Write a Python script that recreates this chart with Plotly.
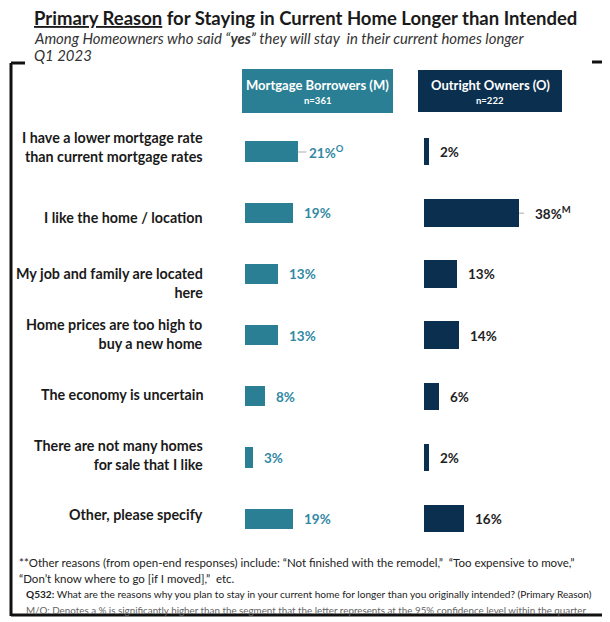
import plotly.graph_objects as go

# page body has an 8px margin: the figure is drawn from (8, 8) of the window
OFF = 8
FW, FH = 602, 614

categories = [
    "I have a lower mortgage rate<br>than current mortgage rates",
    "I like the home / location",
    "My job and family are located<br>here",
    "Home prices are too high to<br>buy a new home",
    "The economy is uncertain",
    "There are not many homes<br>for sale that I like",
    "Other, please specify",
]
mortgage = [21, 19, 13, 13, 8, 3, 19]
outright = [2, 38, 13, 14, 6, 2, 16]
mortgage_sig = ["O", "", "", "", "", "", ""]
outright_sig = ["", "M", "", "", "", "", ""]
series_names = ["Mortgage Borrowers (M)", "Outright Owners (O)"]
series_n = ["n=361", "n=222"]

TEAL = "#2a7f94"
NAVY = "#0b2f4f"
FONT = "Lato"

def px(x):
    return (x - OFF) / FW

def py(y):
    return 1 - (y - OFF) / FH

fig = go.Figure()
fig.add_trace(go.Bar(
    y=categories, x=mortgage, orientation="h", xaxis="x", yaxis="y",
    marker=dict(color=TEAL, line=dict(width=0)), width=0.33,
    hoverinfo="x+y", showlegend=False,
))
fig.add_trace(go.Bar(
    y=categories, x=outright, orientation="h", xaxis="x2", yaxis="y2",
    marker=dict(color=NAVY, line=dict(width=0)), width=0.45,
    hoverinfo="x+y", showlegend=False,
))

ydom = [py(549.6), py(121.4)]
yax = dict(domain=ydom, type="category", categoryorder="array", categoryarray=categories,
           range=[len(categories) - 0.5, -0.5], showticklabels=False, showgrid=False,
           zeroline=False, showline=False, ticks="")
fig.update_layout(
    width=FW, height=FH, margin=dict(l=0, r=0, t=0, b=0),
    paper_bgcolor="white", plot_bgcolor="rgba(0,0,0,0)",
    xaxis=dict(domain=[px(245), px(345)], range=[0, 40], visible=False, anchor="y"),
    xaxis2=dict(domain=[px(424), px(524)], range=[0, 40], visible=False, anchor="y2"),
    yaxis=dict(anchor="x", **yax),
    yaxis2=dict(anchor="x2", **yax),
    bargap=0,
)

ann = []
shapes = []

# category labels
label_shift = [5, -4, -9, 2, 2, 3, 5]
for i, c in enumerate(categories):
    ann.append(dict(xref="paper", yref="y", x=px(205), y=c, xanchor="right", yanchor="middle",
                    yshift=label_shift[i], text="<b>" + c + "</b>", align="right", showarrow=False,
                    font=dict(family=FONT, size=14.3, color="#1a1a1a")))

# value labels
for i, c in enumerate(categories):
    sig = mortgage_sig[i]
    gap = 9
    ann.append(dict(xref="x", yref="y", x=mortgage[i], y=c, xanchor="left", yanchor="middle",
                    xshift=gap, showarrow=False,
                    text="<b>%d%%%s</b>" % (mortgage[i], "<sup>" + sig + "</sup>" if sig else ""),
                    font=dict(family=FONT, size=13.5, color="#3289a3")))
    if sig:
        shapes.append(dict(type="line", xref="x", yref="y", xsizemode="pixel", xanchor=mortgage[i],
                           x0=0, x1=gap, y0=i, y1=i, line=dict(color="#aaaaaa", width=1)))
    sig = outright_sig[i]
    gap = 14 if sig else 9
    ann.append(dict(xref="x2", yref="y2", x=outright[i], y=c, xanchor="left", yanchor="middle",
                    xshift=gap, showarrow=False,
                    text="<b>%d%%%s</b>" % (outright[i], "<sup>" + sig + "</sup>" if sig else ""),
                    font=dict(family=FONT, size=13.5, color="#222222")))
    if sig:
        shapes.append(dict(type="line", xref="x2", yref="y2", xsizemode="pixel", xanchor=outright[i],
                           x0=0, x1=gap, y0=i, y1=i, line=dict(color="#aaaaaa", width=1)))

# header boxes
for (x0, x1, y0, y1, col), name, n in zip(
        [(242, 393, 69, 113, TEAL), (418, 562, 70, 112, NAVY)], series_names, series_n):
    shapes.append(dict(type="rect", xref="paper", yref="paper", x0=px(x0), x1=px(x1),
                       y0=py(y1), y1=py(y0), fillcolor=col, line=dict(width=0), layer="below"))
    cx = px((x0 + x1) / 2)
    ann.append(dict(xref="paper", yref="paper", x=cx, y=py(85), xanchor="center", yanchor="middle",
                    text="<b>" + name + "</b>", showarrow=False,
                    font=dict(family=FONT, size=13, color="white")))
    ann.append(dict(xref="paper", yref="paper", x=cx, y=py(100), xanchor="center", yanchor="middle",
                    text="<b>" + n + "</b>", showarrow=False,
                    font=dict(family=FONT, size=9.5, color="white")))

# title and subtitles
ann.append(dict(xref="paper", yref="paper", x=px(32), y=py(17.5), xanchor="left", yanchor="middle",
                text="<b><u>Primary Reason</u> for Staying in Current Home Longer than Intended</b>",
                showarrow=False, font=dict(family=FONT, size=18.5, color="#1a1a1a")))
ann.append(dict(xref="paper", yref="paper", x=px(32), y=py(37.5), xanchor="left", yanchor="middle",
                text="<i>Among Homeowners who said \u201c<b>yes</b>\u201d they will stay  in their current homes longer</i>",
                showarrow=False, font=dict(family=FONT, size=14.9, color="#333333")))
ann.append(dict(xref="paper", yref="paper", x=px(32), y=py(55), xanchor="left", yanchor="middle",
                text="<i>Q1 2023</i>", showarrow=False, font=dict(family=FONT, size=14.9, color="#333333")))

# footnotes
ann.append(dict(xref="paper", yref="paper", x=px(17), y=py(562), xanchor="left", yanchor="middle",
                text="**Other reasons (from open-end responses) include: \u201cNot finished with the remodel,\u201d  \u201cToo expensive to move,\u201d",
                showarrow=False, font=dict(family=FONT, size=11.5, color="#222222")))
ann.append(dict(xref="paper", yref="paper", x=px(17), y=py(578), xanchor="left", yanchor="middle",
                text="\u201cDon\u2019t know where to go [if I moved],\u201d  etc.",
                showarrow=False, font=dict(family=FONT, size=11.5, color="#222222")))
ann.append(dict(xref="paper", yref="paper", x=px(24), y=py(594), xanchor="left", yanchor="middle",
                text="<b>Q532:</b> What are the reasons why you plan to stay in your current home for longer than you originally intended? (Primary Reason)",
                showarrow=False, font=dict(family=FONT, size=10.1, color="#222222")))
ann.append(dict(xref="paper", yref="paper", x=px(24), y=py(610), xanchor="left", yanchor="middle",
                text="M/O: Denotes a % is significantly higher than the segment that the letter represents at the 95% confidence level within the quarter",
                showarrow=False, font=dict(family=FONT, size=9.8, color="#666666")))

# frame
frame = dict(color="#111111", width=3)
for (x0, y0, x1, y1) in [(11, 63, 11, 616), (11, 63, 25, 63), (607, 62, 607, 616),
                         (592, 62, 607, 62), (11, 615, 607, 615)]:
    shapes.append(dict(type="line", xref="paper", yref="paper", x0=px(x0), y0=py(y0),
                       x1=px(x1), y1=py(y1), line=frame, layer="above"))

fig.update_layout(annotations=ann, shapes=shapes)
fig.write_html("out.html")
